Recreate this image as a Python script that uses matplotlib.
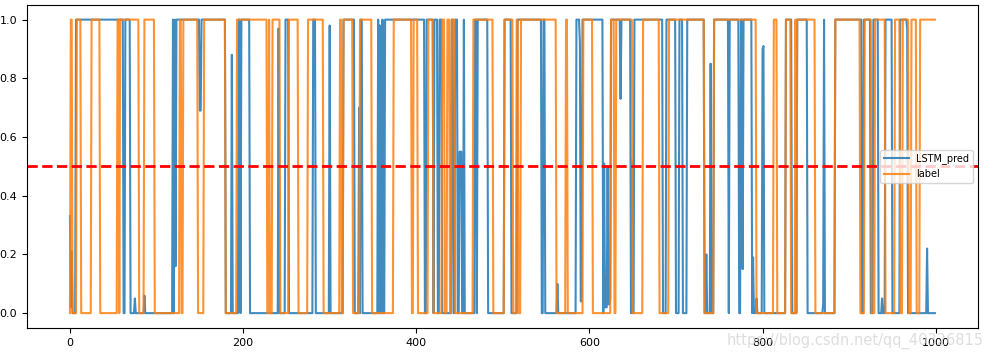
import matplotlib.pyplot as plt
import numpy as np

n_points = 1000

# label runs: (start index, value), value holds until the next start
label_runs = [
    (0, 0), (1, 1), (3, 0), (8, 1), (13, 0), (25, 1), (35, 0), (55, 1), (57, 0), (58, 1),
    (80, 0), (86, 1), (98, 0), (127, 1), (129, 0), (131, 1), (148, 0), (155, 1), (180, 0),
    (193, 1), (228, 0), (230, 1), (231, 0), (234, 1), (243, 0), (253, 1), (264, 0), (275, 1),
    (293, 0), (312, 1), (314, 0), (316, 1), (327, 0), (335, 1), (349, 0), (374, 1), (395, 0),
    (397, 1), (402, 0), (414, 1), (420, 0), (430, 1), (433, 0), (436, 1), (439, 0), (441, 1),
    (445, 0), (466, 1), (489, 0), (502, 1), (512, 0), (516, 1), (518, 0), (521, 1), (562, 0),
    (573, 1), (575, 0), (593, 1), (604, 0), (625, 1), (629, 0), (631, 1), (650, 0), (662, 1),
    (681, 0), (692, 1), (733, 0), (744, 1), (793, 0), (813, 1), (817, 0), (827, 1), (833, 0),
    (838, 1), (839, 0), (840, 1), (861, 0), (884, 1), (913, 0), (918, 1), (926, 0), (930, 1),
    (942, 0), (953, 1), (959, 0), (962, 1), (969, 0), (972, 1), (978, 0), (982, 1),
]

# LSTM prediction runs: (start index, value)
pred_runs = [
    (0, 0.33), (1, 0.02), (2, 0.21), (3, 0.0), (7, 1.0), (62, 0.0), (64, 1.0), (70, 0.0),
    (75, 0.05), (76, 0.0), (86, 0.06), (87, 0.0), (119, 1.0), (120, 0.0), (121, 1.0),
    (122, 0.16), (123, 1.0), (150, 0.69), (152, 1.0), (180, 0.0), (187, 0.88), (188, 0.0),
    (195, 1.0), (197, 0.0), (198, 1.0), (208, 0.0), (241, 0.97), (242, 0.0), (249, 1.0),
    (253, 0.0), (281, 1.0), (284, 0.0), (300, 0.98), (301, 0.0), (316, 1.0), (329, 0.0),
    (334, 0.7), (335, 0.0), (336, 1.0), (338, 0.0), (356, 1.0), (357, 0.0), (358, 0.98),
    (359, 0.0), (361, 1.0), (362, 0.0), (364, 1.0), (410, 0.0), (412, 1.0), (420, 0.0),
    (421, 1.0), (425, 0.0), (427, 1.0), (430, 0.0), (441, 1.0), (443, 0.0), (445, 1.0),
    (448, 0.0), (450, 0.55), (453, 0.0), (455, 1.0), (456, 0.0), (468, 1.0), (470, 0.0),
    (471, 1.0), (483, 0.0), (502, 1.0), (510, 0.0), (517, 1.0), (545, 0.0), (547, 1.0),
    (549, 0.0), (563, 0.1), (564, 0.0), (585, 1.0), (589, 0.92), (590, 0.04), (592, 1.0),
    (616, 0.0), (617, 0.51), (618, 0.02), (621, 0.5), (622, 0.03), (624, 0.05), (625, 1.0),
    (636, 0.73), (637, 1.0), (648, 0.0), (649, 0.52), (650, 0.0), (652, 1.0), (685, 0.0),
    (689, 1.0), (700, 0.0), (704, 1.0), (708, 0.0), (713, 1.0), (733, 0.0), (735, 0.2),
    (736, 0.0), (740, 0.85), (741, 0.0), (744, 1.0), (761, 0.0), (762, 1.0), (773, 0.0),
    (775, 1.0), (777, 0.15), (778, 1.0), (788, 0.0), (789, 0.19), (790, 0.0), (793, 0.05),
    (794, 0.0), (800, 0.9), (801, 0.91), (802, 0.0), (827, 1.0), (834, 0.0), (840, 1.0),
    (852, 0.0), (870, 0.03), (871, 1.0), (872, 0.0), (884, 1.0), (915, 0.0), (917, 1.0),
    (925, 0.0), (928, 1.0), (934, 0.0), (938, 0.05), (939, 0.0), (942, 1.0), (950, 0.0),
    (959, 1.0), (967, 0.97), (968, 0.0), (990, 0.22), (991, 0.0),
]


def expand(runs, n):
    starts = [s for s, _ in runs] + [n]
    vals = [v for _, v in runs]
    lengths = np.diff(starts)
    return np.repeat(vals, lengths)


pred = expand(pred_runs, n_points)
label = expand(label_runs, n_points)

fig = plt.figure(figsize=(9.89, 3.54), dpi=100)
ax = fig.add_axes([0.027, 0.074, 0.962, 0.912])
ax.plot(pred, color='#1f77b4', alpha=0.85, lw=1.5, label='LSTM_pred')
ax.plot(label, color='#ff7f0e', alpha=0.85, lw=1.5, label='label')
ax.axhline(0.5, color='red', ls='--', lw=2)
ax.legend(loc='center right', fontsize=7, handlelength=2.5)
ax.tick_params(labelsize=8)

fig.text(0.995, 0.015, 'https://blog.csdn.net/qq_40326815', ha='right', va='bottom',
         fontsize=10.5, color='#d0d0d0', alpha=0.7)

fig.savefig('out.png')
